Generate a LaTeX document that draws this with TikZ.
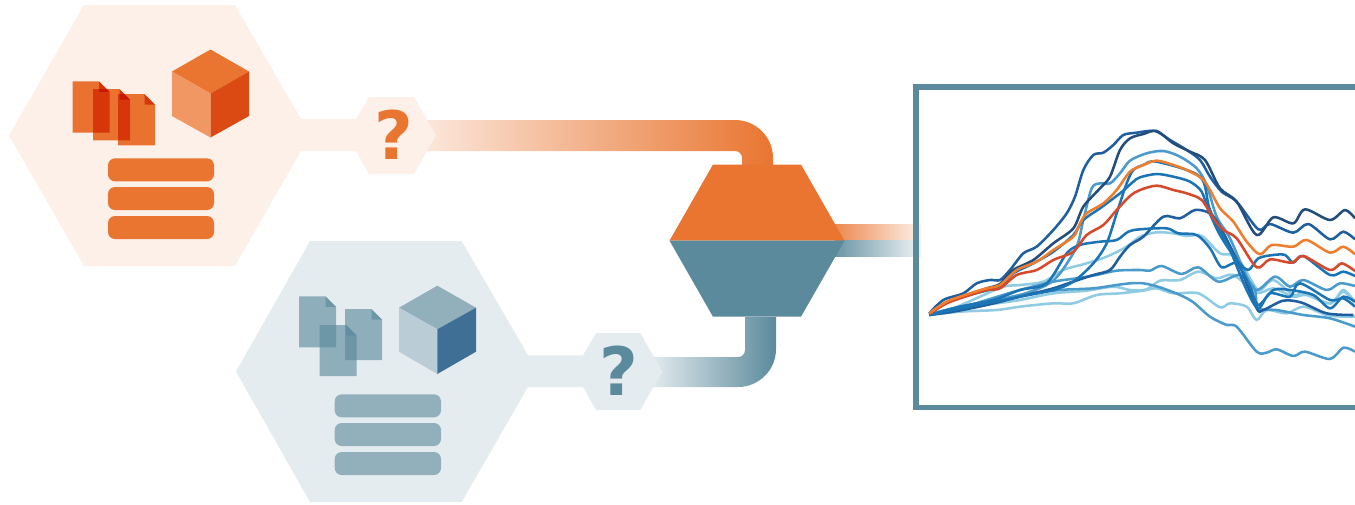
\documentclass[tikz,border=0pt]{standalone}
\usepackage{fontspec}
\setsansfont{DejaVu Sans}
\usetikzlibrary{positioning, calc}
\definecolor{Orange}{HTML}{E97530}
\definecolor{OrangePale}{HTML}{FDF0E9}
\definecolor{OrangeDoc}{HTML}{EB7A36}
\definecolor{OrangeLeft}{HTML}{F19763}
\definecolor{OrangeRight}{HTML}{DB4A13}
\definecolor{Teal}{HTML}{5B8A9C}
\definecolor{TealPale}{HTML}{E5ECF0}
\definecolor{TealBar}{HTML}{92AFBC}
\definecolor{TealLeft}{HTML}{BACDD6}
\definecolor{TealRight}{HTML}{3F6F94}
\definecolor{Navy}{HTML}{234E7C}
\definecolor{DeepBlue}{HTML}{1F5F9F}
\definecolor{MainBlue}{HTML}{1B75B5}
\definecolor{MidBlue}{HTML}{4A9BCB}
\definecolor{SkyBlue}{HTML}{8FCBE3}
\definecolor{LineOrange}{HTML}{F07D2B}
\definecolor{LineRed}{HTML}{D8492B}
\tikzset{
    docorange/.style={fill=OrangeDoc, blend mode=multiply},
    docteal/.style={fill=Teal, opacity=0.63},
    qmark/.style={font=\sffamily\bfseries\fontsize{38}{38}\selectfont, anchor=base, inner sep=0pt},
    barfill/.style={rounded corners=0.14cm},
    curve/.style={line width=1.45pt, line join=round},
}

\begin{document}
\begin{tikzpicture}[x=0.02cm, y=-0.02cm]
    \useasboundingbox (0,0) rectangle (1355,504);
    \clip (0,0) rectangle (1355,504);

    % Definitions
    \coordinate (OrangeBandStart) at (427,120);
    \coordinate (OrangeBandEnd) at (773,165);
    \coordinate (TealBandStart) at (653,387);
    \coordinate (TealBandEnd) at (776,317);
    \coordinate (MixerLeft) at (669.5,240.7);
    \coordinate (MixerRight) at (844.5,240.7);

    % 1. Bands
    \shade[left color=Orange!18, right color=Orange] (OrangeBandStart) -- (735,120) arc[start angle=-90, end angle=0, radius=38] -- (OrangeBandEnd) -- (742,165) -- (742,158) arc[start angle=0, end angle=-90, radius=7] -- (427,151) -- cycle;
    \shade[left color=Teal!18, right color=Teal] (TealBandStart) -- (738,387) arc[start angle=90, end angle=0, radius=38] -- (TealBandEnd) -- (745,317) -- (745,350) arc[start angle=0, end angle=90, radius=7] -- (653,357) -- cycle;
    \shade[left color=Orange!85, right color=Orange!10] (835,224.7) rectangle (921,240.7);
    \shade[left color=Teal!90, right color=Teal!10] (835,240.7) rectangle (921,256.7);

    % 2. Orange hexagon
    \fill[OrangePale] (84,5) -- (235,5) -- (301,119) -- (356,119) -- (369,97) -- (414,97) -- (436,135.5) -- (414,174) -- (369,174) -- (356,151) -- (301,151) -- (235,266) -- (84,266) -- (9,135.5) -- cycle;
    \node[qmark, text=Orange] (QuestionOrange) at (394,159) {?};
    \foreach \x/\y in {72.5/81.3, 93/89, 118/94}{
        \fill[docorange, shift={(\x,\y)}] (0,0) -- (26.5,0) -- (37,10.5) -- (37,51.3) -- (0,51.3) -- cycle;
        \fill[docorange, shift={(\x,\y)}] (26.5,0) -- (37,10.5) -- (26.5,10.5) -- cycle;
    }
    \fill[Orange] (210.5,49.5) -- (249,71.5) -- (210.5,93.5) -- (172,71.5) -- cycle;
    \fill[OrangeLeft] (172,71.5) -- (210.5,93.5) -- (210.5,137.5) -- (172,116) -- cycle;
    \fill[OrangeRight] (249,71.5) -- (210.5,93.5) -- (210.5,137.5) -- (249,116) -- cycle;
    \foreach \y in {158.3, 187, 216}{
        \fill[Orange, barfill] (108,\y) rectangle (214,\y+23);
    }

    % 3. Teal hexagon
    \fill[TealPale] (310,241) -- (461.7,241) -- (528,355.3) -- (583,355.3) -- (596,333) -- (640.3,333) -- (662.3,371.5) -- (640.3,410) -- (596,410) -- (583,387) -- (528,387) -- (461.7,502) -- (310,502) -- (236,371.5) -- cycle;
    \node[qmark, text=Teal] (QuestionTeal) at (619,395) {?};
    \foreach \x/\y in {299/296.3, 345/309, 319.7/325}{
        \fill[docteal, shift={(\x,\y)}] (0,0) -- (26.5,0) -- (37,10.5) -- (37,51) -- (0,51) -- cycle;
        \fill[docteal, shift={(\x,\y)}] (26.5,0) -- (37,10.5) -- (26.5,10.5) -- cycle;
    }
    \fill[TealBar] (437.3,285.7) -- (476,307.7) -- (437.3,329.3) -- (399,307.7) -- cycle;
    \fill[TealLeft] (399,307.7) -- (437.3,329.3) -- (437.3,374) -- (399,351.7) -- cycle;
    \fill[TealRight] (476,307.7) -- (437.3,329.3) -- (437.3,374) -- (476,351.7) -- cycle;
    \foreach \y in {394.3, 423, 452}{
        \fill[TealBar, barfill] (334.7,\y) rectangle (441,\y+23);
    }

    % 4. Mixer
    \fill[Orange] (713,164.5) -- (801,164.5) -- (MixerRight) -- (MixerLeft) -- cycle;
    \fill[Teal] (MixerLeft) -- (MixerRight) -- (801,316.7) -- (713,316.7) -- cycle;

    % 5. Frame
    \draw[Teal, line width=3.1pt] (1360,87.2) -- (916,87.2) -- (916,407.5) -- (1360,407.5);

    % 6. Curves
    \begin{scope}[shift={(920,120)}, x=0.02cm/3, y=-0.02cm/3]
        \draw[curve, SkyBlue] plot[smooth] coordinates {(28,585) (120,575) (230,570) (300,560) (400,550) (460,550) (530,525) (600,520) (670,512) (710,505) (760,520) (835,520) (900,562) (930,550) (980,560) (1010,600) (1040,570) (1100,580) (1150,560) (1220,585) (1270,590) (1305,590)};
        \draw[curve, SkyBlue] plot[smooth] coordinates {(28,585) (140,560) (230,550) (300,540) (400,520) (500,512) (580,500) (630,510) (680,508) (720,482) (780,480) (835,455) (890,475) (940,465) (1010,518) (1060,505) (1120,530) (1160,525) (1230,550) (1270,515) (1305,548)};
        \draw[curve, SkyBlue] plot[smooth] coordinates {(28,585) (100,565) (180,530) (250,500) (300,495) (370,485) (430,450) (500,430) (560,410) (620,380) (660,350) (710,337) (760,340) (800,348) (845,348) (900,400) (940,405) (970,440) (1015,510) (1060,480) (1120,525) (1150,520) (1230,550) (1270,510) (1305,548)};
        \draw[curve, MidBlue] plot[smooth] coordinates {(28,585) (120,560) (220,545) (300,525) (420,510) (520,505) (590,495) (630,490) (670,490) (720,502) (780,525) (820,547) (870,590) (920,615) (950,620) (1010,695) (1040,698) (1070,688) (1120,708) (1155,695) (1230,717) (1270,683) (1305,695)};
        \draw[curve, MidBlue] plot[smooth] coordinates {(28,585) (100,570) (200,540) (300,510) (400,485) (470,475) (530,465) (590,452) (660,450) (690,452) (725,438) (785,462) (835,442) (895,485) (960,465) (1010,510) (1065,470) (1110,500) (1150,480) (1220,510) (1260,490) (1305,498)};
        \draw[curve, MidBlue] plot[smooth] coordinates {(28,582) (100,565) (200,545) (300,525) (380,495) (420,460) (470,380) (490,300) (515,205) (540,190) (570,190) (600,160) (630,122) (680,100) (730,93) (780,110) (830,145) (860,195) (890,290) (930,355) (980,470) (1005,510) (1015,565) (1070,570) (1150,585) (1230,595) (1305,620)};
        \draw[curve, DeepBlue] plot[smooth] coordinates {(28,585) (100,575) (200,555) (300,530) (400,505) (450,488) (520,465) (570,450) (600,410) (630,375) (670,350) (730,290) (780,295) (825,270) (870,280) (900,320) (960,440) (1010,565) (1030,570) (1090,542) (1145,548) (1220,580) (1300,585)};
        \draw[curve, MainBlue] plot[smooth] coordinates {(28,585) (120,560) (220,540) (300,510) (380,490) (440,400) (480,375) (540,365) (590,360) (625,335) (660,328) (740,325) (775,340) (830,345) (870,385) (905,442) (950,430) (990,500) (1015,555) (1060,510) (1110,510) (1180,525) (1230,565) (1270,530) (1305,545)};
        \draw[curve, MainBlue] plot[smooth] coordinates {(28,585) (100,570) (200,550) (300,530) (400,510) (460,485) (520,430) (560,370) (590,280) (620,190) (640,150) (670,135) (710,125) (840,170) (870,270) (930,390) (980,510) (1015,565) (1050,520) (1110,530) (1140,490) (1230,540) (1270,535) (1305,560)};
        \draw[curve, MainBlue] plot[smooth] coordinates {(28,582) (80,548) (150,525) (240,498) (280,460) (340,430) (400,395) (460,345) (490,300) (540,265) (600,220) (640,185) (660,172) (710,162) (760,170) (810,185) (845,215) (865,270) (900,345) (950,420) (985,450) (1015,415) (1060,405) (1095,405) (1120,428) (1150,408) (1230,465) (1270,455) (1305,468)};
        \draw[curve, DeepBlue] plot[smooth] coordinates {(28,580) (70,540) (130,520) (170,490) (210,480) (240,480) (270,450) (310,400) (350,380) (400,330) (440,280) (465,230) (490,150) (520,105) (550,98) (580,75) (610,45) (650,38) (705,33) (750,60) (800,90) (840,120) (870,170) (905,215) (950,245) (1015,328) (1050,312) (1120,338) (1165,312) (1230,358) (1270,335) (1305,358)};
        \draw[curve, Navy] plot[smooth] coordinates {(28,582) (80,548) (150,522) (200,505) (240,492) (280,450) (340,420) (400,370) (460,325) (490,260) (540,205) (570,170) (600,90) (630,55) (670,42) (710,33) (760,70) (810,95) (855,120) (900,205) (950,245) (1010,345) (1060,292) (1120,310) (1155,268) (1230,300) (1275,270) (1305,295)};
        \draw[curve, LineRed] plot[smooth] coordinates {(28,582) (80,550) (150,525) (200,510) (240,505) (290,465) (350,450) (400,420) (460,395) (500,345) (550,315) (590,270) (630,228) (660,210) (710,197) (760,210) (800,220) (845,240) (880,295) (910,330) (950,355) (1010,442) (1050,418) (1115,428) (1150,408) (1230,450) (1265,430) (1305,453)};
        \draw[curve, LineOrange] plot[smooth] coordinates {(28,580) (80,545) (150,520) (200,505) (240,495) (290,450) (350,425) (400,390) (460,350) (480,310) (500,280) (550,250) (590,210) (630,155) (670,135) (710,122) (760,135) (800,150) (845,175) (870,210) (900,265) (940,305) (980,365) (1020,403) (1055,375) (1120,380) (1160,360) (1230,398) (1270,380) (1305,403)};
    \end{scope}
\end{tikzpicture}
\end{document}
